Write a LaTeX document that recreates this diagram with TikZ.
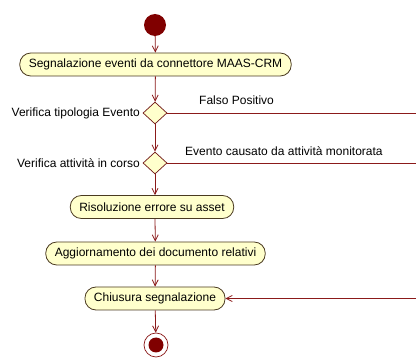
\documentclass[tikz,border=0pt]{standalone}
\usepackage{fontspec}
\setmainfont{Liberation Sans}
\usetikzlibrary{shapes.geometric,arrows.meta}
\definecolor{flowred}{HTML}{8B1A1A}
\definecolor{actfill}{HTML}{FFFFCC}
\definecolor{actline}{HTML}{4A3A20}
\definecolor{dotred}{HTML}{800000}
\tikzset{
  x=1pt, y=-1pt,
  every node/.style={font=\fontsize{12}{14}\selectfont, inner sep=0pt},
  action/.style={draw=actline, fill=actfill, rounded corners=11pt,
    minimum height=23pt, inner xsep=9pt, line width=0.8pt},
  choice/.style={diamond, draw=flowred!80!black, fill=actfill, minimum width=24pt,
    minimum height=22pt, line width=0.7pt},
  flow/.style={draw=flowred, line width=0.8pt, -{Straight Barb[length=6pt,width=6pt]}},
  plain/.style={draw=flowred, line width=0.8pt},
  startdot/.style={circle, fill=dotred, minimum size=22pt},
}
\begin{document}
\begin{tikzpicture}
\useasboundingbox (0,0) rectangle (416,361);
\clip (0,0) rectangle (416,361);
\fill[white] (0,0) rectangle (416,361);

% start and end
\node[startdot] (start) at (155,25) {};
\node[circle, draw=flowred, fill=white, minimum size=24pt, line width=0.7pt] (end) at (156,345) {};
\node[circle, fill=dotred, minimum size=15pt] (endin) at (end) {};

% activities
\node[action] (a1) at (155.5,64.5) {Segnalazione eventi da connettore MAAS-CRM};
\node[choice] (d1) at (155,113) {};
\node[anchor=east] (d1l) at (140,113) {Verifica tipologia Evento};
\node[choice] (d2) at (155,163) {};
\node[anchor=east] (d2l) at (140,163) {Verifica attività in corso};
\node[action] (a2) at (152,207) {Risoluzione errore su asset};
\node[action] (a3) at (155.5,253.5) {Aggiornamento dei documento relativi};
\node[action] (a4) at (155,298.5) {Chiusura segnalazione};

% guard labels
\node[anchor=west] (g1) at (199,100) {Falso Positivo};
\node[anchor=west] (g2) at (185,151) {Evento causato da attività monitorata};

% main flow
\draw[flow] (start) -- (a1);
\draw[flow] (a1) -- (d1);
\draw[flow] (d1) -- (d2);
\draw[flow] (d2) -- (d2 |- a2.north);
\draw[flow] (d2 |- a2.south) -- (a3);
\draw[flow] (a3) -- (a4);
\draw[flow] (a4) -- (end);

% bypass branches
\coordinate (r1) at (440,113);
\coordinate (r2) at (440,163);
\coordinate (r3) at (440,298.5);
\draw[plain] (d1.east) -- (r1) -- (r3);
\draw[plain] (d2.east) -- (r2);
\draw[flow] (r3) -- (a4.east);
\end{tikzpicture}
\end{document}
